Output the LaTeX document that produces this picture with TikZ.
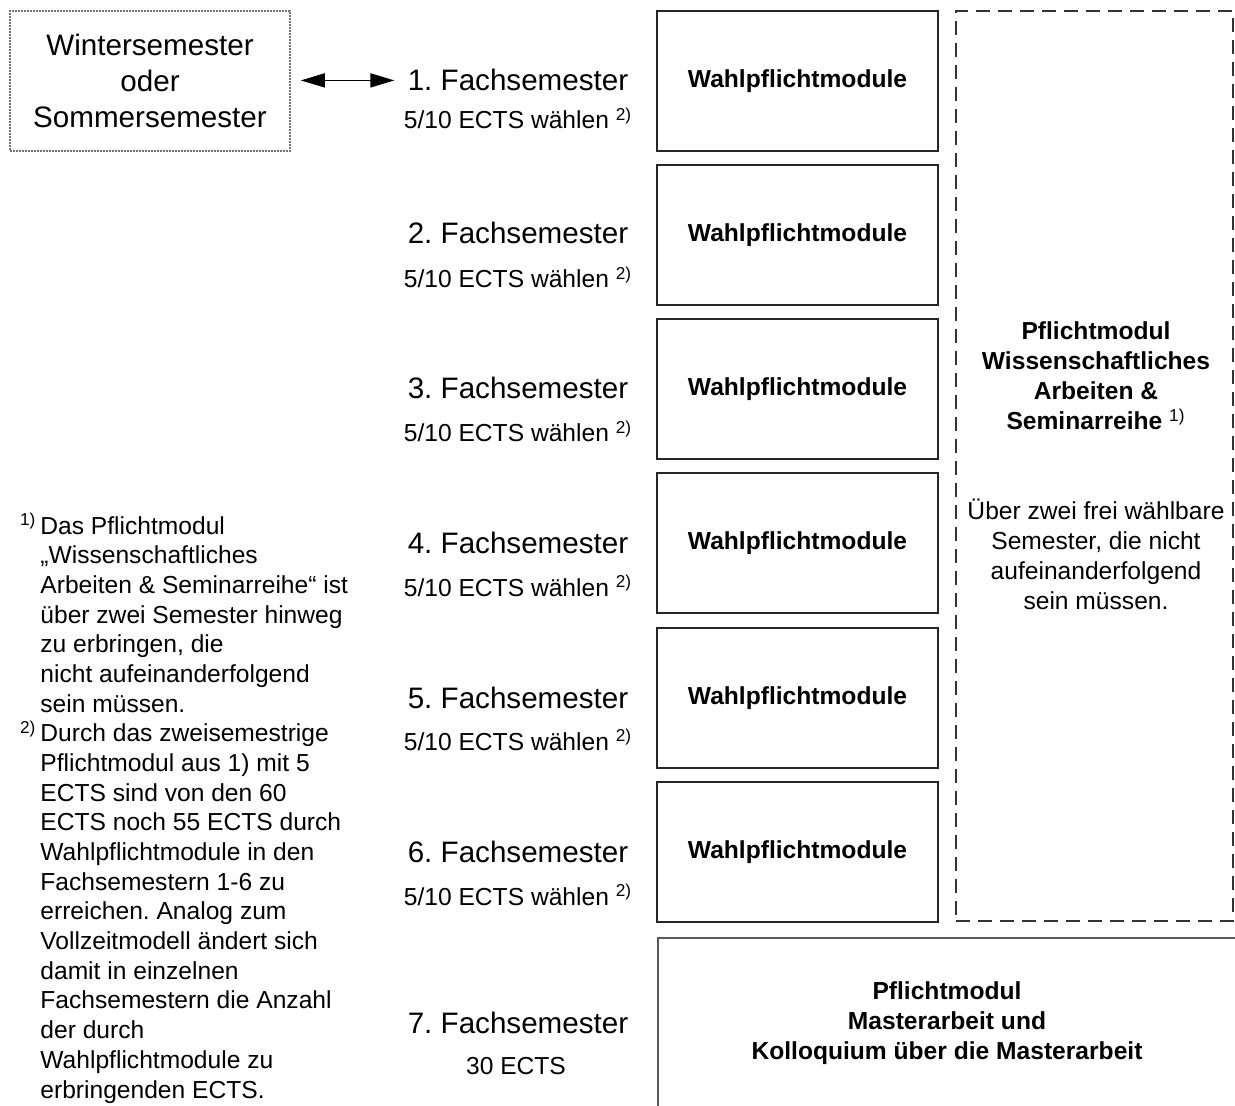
\documentclass[tikz,border=0pt]{standalone}
\usepackage{fontspec}
\setmainfont{Liberation Sans}
\usetikzlibrary{arrows.meta}

\newcommand{\fnote}[1]{\textsuperscript{\mdseries #1}}
\frenchspacing

\begin{document}
\begin{tikzpicture}[x=0.5pt,y=-0.5pt,
	semester/.style={anchor=base,inner sep=0pt,font=\fontsize{14.8}{18}\selectfont},
	ects/.style={anchor=base,inner sep=0pt,font=\fontsize{12.3}{15}\selectfont},
	wpbox/.style={draw=black!85,line width=0.8pt,minimum width=140.5pt,minimum height=70pt,font=\bfseries\fontsize{12.3}{15}\selectfont},
	plain/.style={align=center,font=\fontsize{12.3}{15}\selectfont},
	heavy/.style={align=center,font=\bfseries\fontsize{12.3}{15}\selectfont}]
	\useasboundingbox (0,0) rectangle (1235,1106);
	\clip (0,0) rectangle (1235,1106);
	
	\node(winter) at (150,81)[draw=black!55,line width=0.8pt,dash pattern=on 0.8pt off 0.7pt,minimum width=140pt,minimum height=70pt,align=center,font=\fontsize{14.8}{18}\selectfont]{Wintersemester\\oder\\Sommersemester};
	
	\node(fs1) at (518,91)[semester]{1. Fachsemester};
	\node(ec1) at (518,129)[ects]{5/10 ECTS wählen \fnote{2)}};
	\node(wp1) at (797.5,81)[wpbox]{Wahlpflichtmodule};
	
	\node(fs2) at (518,244)[semester]{2. Fachsemester};
	\node(ec2) at (518,288)[ects]{5/10 ECTS wählen \fnote{2)}};
	\node(wp2) at (797.5,235)[wpbox]{Wahlpflichtmodule};
	
	\node(fs3) at (518,399)[semester]{3. Fachsemester};
	\node(ec3) at (518,442)[ects]{5/10 ECTS wählen \fnote{2)}};
	\node(wp3) at (797.5,389)[wpbox]{Wahlpflichtmodule};
	
	\node(fs4) at (518,553)[semester]{4. Fachsemester};
	\node(ec4) at (518,596)[ects]{5/10 ECTS wählen \fnote{2)}};
	\node(wp4) at (797.5,543)[wpbox]{Wahlpflichtmodule};
	
	\node(fs5) at (518,708)[semester]{5. Fachsemester};
	\node(ec5) at (518,750)[ects]{5/10 ECTS wählen \fnote{2)}};
	\node(wp5) at (797.5,698)[wpbox]{Wahlpflichtmodule};
	
	\node(fs6) at (518,862)[semester]{6. Fachsemester};
	\node(ec6) at (518,905)[ects]{5/10 ECTS wählen \fnote{2)}};
	\node(wp6) at (797.5,852)[wpbox]{Wahlpflichtmodule};
	
	\node(fs7) at (518,1033)[semester]{7. Fachsemester};
	\node(ec7) at (516,1074)[ects]{30 ECTS};
	
	\node(wiss) at (1094.5,466)[draw=black!80,line width=1pt,dash pattern=on 7pt off 4pt,minimum width=138.5pt,minimum height=455pt]{};
	\node(wisstitle) at (1096,376)[heavy]{Pflichtmodul\\Wissenschaftliches\\Arbeiten \&\\Seminarreihe \fnote{1)}};
	\node(wissbody) at (1096,554)[plain]{Über zwei frei wählbare\\Semester, die nicht\\aufeinanderfolgend\\sein müssen.};
	
	\node(masterbox) at (657,937)[anchor=north west,draw=black!65,line width=1.1pt,minimum width=300pt,minimum height=100pt]{};
	\node(master) at (947,1023)[heavy]{Pflichtmodul\\Masterarbeit und\\Kolloquium über die Masterarbeit};
	
	\node(notes) at (40,1098)[anchor=base west,align=left,inner sep=0pt,font=\fontsize{12.3}{14.84}\selectfont]{\llap{\fnote{1)}\kern2pt}Das Pflichtmodul\\
		„Wissenschaftliches\\
		Arbeiten \& Seminarreihe“ ist\\
		über zwei Semester hinweg\\
		zu erbringen, die\\
		nicht aufeinanderfolgend\\
		sein müssen.\\
		\llap{\fnote{2)}\kern2pt}Durch das zweisemestrige\\
		Pflichtmodul aus 1) mit 5\\
		ECTS sind von den 60\\
		ECTS noch 55 ECTS durch\\
		Wahlpflichtmodule in den\\
		Fachsemestern 1-6 zu\\
		erreichen. Analog zum\\
		Vollzeitmodell ändert sich\\
		damit in einzelnen\\
		Fachsemestern die Anzahl\\
		der durch\\
		Wahlpflichtmodule zu\\
		erbringenden ECTS.};
	
	\draw[{Triangle[length=12pt,width=7pt]}-{Triangle[length=12pt,width=7pt]},line width=0.8pt,shorten <=5pt,shorten >=6.5pt] (fs1.west -| winter.east) to (fs1.west);
\end{tikzpicture}
\end{document}
